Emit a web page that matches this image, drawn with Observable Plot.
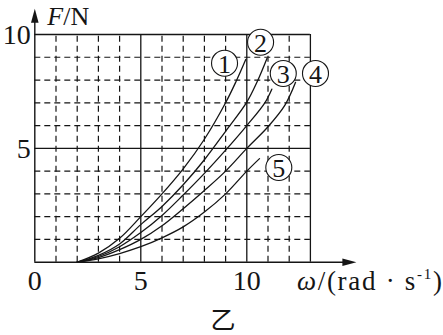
<!DOCTYPE html>
<html><head><meta charset="utf-8">
<script src="https://cdn.jsdelivr.net/npm/d3@7"></script>
<script src="https://cdn.jsdelivr.net/npm/@observablehq/plot@0.6"></script>
<style>html,body{margin:0;padding:0;background:#fff;overflow:hidden}svg{display:block}</style>
</head><body><div id="chart"></div>
<script>
// ---- data ----
const curveNames = ["1", "2", "3", "4", "5"];
const omega1 = [2, 3, 4, 5, 6, 7, 8, 9, 9.5, 9.95];
const force1 = [0, 0.4, 1.05, 2.0, 3.0, 4.1, 5.4, 7.0, 7.95, 8.9];
const omega2 = [2, 3, 4, 5, 6, 7, 8, 9, 10, 10.5, 10.95];
const force2 = [0, 0.3, 0.8, 1.65, 2.45, 3.4, 4.5, 5.75, 7.03, 7.95, 8.95];
const omega3 = [2, 3, 4, 5, 6, 7, 8, 9, 10, 10.85, 11.18];
const force3 = [0, 0.25, 0.68, 1.3, 2.05, 2.95, 3.9, 4.92, 6.0, 7.0, 7.6];
const omega4 = [2, 3, 4, 5, 6, 7, 8, 9, 10, 11, 11.8, 12.3];
const force4 = [0, 0.2, 0.55, 1.0, 1.6, 2.35, 3.15, 4.0, 5.0, 5.95, 6.9, 7.9];
const omega5 = [2, 3, 4, 5, 6, 7, 8, 9, 10, 10.6];
const force5 = [0, 0.15, 0.38, 0.68, 1.07, 1.55, 2.2, 3.0, 4.0, 4.55];
// circled curve labels (data coordinates)
const labelOmega = [8.95, 10.65, 11.72, 13.24, 11.51];
const labelForce = [8.74, 9.66, 8.29, 8.29, 4.16];
// ticks and grid
const xTicks = [0, 5, 10];
const yTicks = [5, 10];
const xSolid = [5, 10, 13];
const ySolid = [5, 10];
const xDashed = [1, 2, 3, 4, 6, 7, 8, 9, 11, 12];
const yDashed = [1, 2, 3, 4, 6, 7, 8, 9];
const xMax = 13, yMax = 10;
const xArrowEnd = 15.17, yArrowEnd = 11.13;

// ---- build tables ----
const omegas = [omega1, omega2, omega3, omega4, omega5];
const forces = [force1, force2, force3, force4, force5];
const points = [];
curveNames.forEach((c, i) => omegas[i].forEach((w, j) => points.push({curve: c, omega: w, F: forces[i][j]})));
const labels = curveNames.map((c, i) => ({text: c, omega: labelOmega[i], F: labelForce[i]}));

const serif = "'Liberation Serif', 'DejaVu Serif', serif";
const ink = "#151515";
const arrowHead = {draw(ctx) { ctx.moveTo(0, 0); ctx.lineTo(-3.8, 14); ctx.lineTo(3.8, 14); ctx.closePath(); }};

const plot = Plot.plot({
  width: 443, height: 335,
  marginLeft: 34.3, marginRight: 133.1, marginTop: 34, marginBottom: 73.3,
  x: {domain: [0, xMax], axis: null},
  y: {domain: [0, yMax], axis: null},
  style: {background: "white", fontFamily: serif, color: ink},
  marks: [
    Plot.ruleX(xDashed, {y1: 0, y2: yMax, stroke: ink, strokeWidth: 1.2, strokeDasharray: "6,4"}),
    Plot.ruleY(yDashed, {x1: 0, x2: xMax, stroke: ink, strokeWidth: 1.2, strokeDasharray: "6,4"}),
    Plot.ruleX(xSolid, {y1: 0, y2: yMax, stroke: ink, strokeWidth: 1.3}),
    Plot.ruleY(ySolid, {x1: 0, x2: xMax, stroke: ink, strokeWidth: 1.3}),
    Plot.line(points, {x: "omega", y: "F", z: "curve", curve: "catmull-rom", stroke: ink, strokeWidth: 1.3}),
    Plot.ruleY([0], {x1: 0, x2: xArrowEnd - 0.3, stroke: ink, strokeWidth: 1.4}),
    Plot.ruleX([0], {y1: 0, y2: yArrowEnd - 0.3, stroke: ink, strokeWidth: 1.4}),
    Plot.dot([0], {x: () => xArrowEnd, y: () => 0, symbol: arrowHead, fill: ink, stroke: "none", rotate: 90}),
    Plot.dot([0], {x: () => 0, y: () => yArrowEnd, symbol: arrowHead, fill: ink, stroke: "none"}),
    Plot.dot(labels, {x: "omega", y: "F", r: 13, fill: "white", stroke: ink, strokeWidth: 1.1}),
    Plot.text(labels, {x: "omega", y: "F", text: "text", fontSize: 26, fontFamily: serif, fill: ink, dy: 1}),
    Plot.text(xTicks, {x: d => d, y: () => 0, text: d => String(d), fontSize: 28, dy: 19, fill: ink, lineAnchor: "middle"}),
    Plot.text(yTicks, {x: () => 0, y: d => d, text: d => String(d), fontSize: 28, dx: -4, dy: 1, textAnchor: "end", fill: ink, lineAnchor: "middle"})
  ]
});
document.getElementById("chart").appendChild(plot);

// ---- axis titles with mixed styles ----
const sx = plot.scale("x"), sy = plot.scale("y");
const svg = d3.select(plot);
const fl = svg.append("text")
  .attr("x", sx.apply(0) + 13).attr("y", sy.apply(yMax) - 9)
  .attr("text-anchor", "start")
  .attr("font-family", serif).attr("font-size", 26).attr("fill", ink);
fl.append("tspan").attr("font-style", "italic").text("F");
fl.append("tspan").text("/N");

const wl = svg.append("text")
  .attr("x", sx.apply(xMax) - 13).attr("y", sy.apply(0) + 28)
  .attr("text-anchor", "start")
  .attr("font-family", serif).attr("font-size", 27).attr("fill", ink)
  .attr("textLength", 145).attr("lengthAdjust", "spacing");
wl.append("tspan").attr("font-style", "italic").text("ω");
wl.append("tspan").text("/(rad · s");
wl.append("tspan").attr("font-size", 15).attr("dy", -11).text("-1");
wl.append("tspan").attr("dy", 11).text(")");

svg.append("text")
  .attr("x", 223).attr("y", 318)
  .attr("text-anchor", "middle").attr("dominant-baseline", "central")
  .attr("font-family", "'Noto Sans CJK SC', sans-serif").attr("font-size", 25).attr("fill", ink)
  .text("乙");
</script></body></html>
